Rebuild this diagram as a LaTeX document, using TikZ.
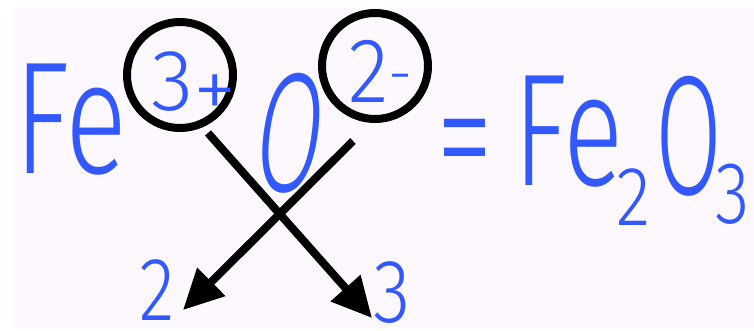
\documentclass[tikz,border=0pt]{standalone}
\usepackage{fontspec}
\newfontfamily\hand{Fira Sans Light}
\newfontfamily\handit{Fira Sans Light}[FakeSlant=0.22]
\usetikzlibrary{arrows.meta}
\definecolor{ink}{RGB}{50,88,255}
\definecolor{bg}{RGB}{253,248,253}
\newcommand{\fsz}[1]{\fontsize{#1}{#1}\selectfont}
\tikzset{
  x=1pt, y=-1pt,
  txt/.style={inner sep=0pt, outer sep=0pt, anchor=base west, text=ink, font=\hand},
  ring/.style={draw=black, line width=8pt, circle, minimum size=106pt, inner sep=0pt},
  cross/.style={line width=8pt, draw=black, -{Triangle[length=40pt,width=38pt]}},
}
\begin{document}
\begin{tikzpicture}
\useasboundingbox (0,0) rectangle (754,330);
\fill[bg] (13,8) rectangle (754,328);
% left side
\node[txt] (fe1) at (14,173) {\scalebox{0.72}[1]{\fsz{160}Fe}};
\node[ring] (c1) at (180,75) {};
\node[txt] (q1) at (151,110) {\fsz{87}3\raisebox{-9pt}{\fsz{88}+}};
\node[txt] (o1) at (250,191) {\scalebox{0.57}[1]{\fsz{170}\handit O}};
\node[ring] (c2) at (375,66) {};
\node[txt] (q2) at (348,102) {\scalebox{0.92}[1]{\fsz{92}2}\raisebox{8pt}{\fsz{60}-}};
\node[txt] (l2) at (139,320) {\scalebox{0.82}[1]{\fsz{90}2}};
\node[txt] (l3) at (373,322) {\scalebox{0.85}[1]{\fsz{90}3}};
% right side
\node[txt] (eq) at (436,192) {\scalebox{0.7}[1]{\fsz{165}=}};
\node[txt] (fe2) at (513,185) {\scalebox{0.70}[1]{\fsz{160}Fe}};
\node[txt] (s2) at (616,225) {\scalebox{0.85}[1]{\fsz{84}2}};
\node[txt] (o2) at (655,194) {\scalebox{0.57}[1]{\fsz{170}O}};
\node[txt] (s3) at (715,223) {\scalebox{0.80}[1]{\fsz{88}3}};
% crossing arrows
\coordinate (a1s) at (208,133);
\coordinate (a1e) at (372,318);
\coordinate (a2s) at (353,141);
\coordinate (a2e) at (183,310);
\draw[cross] (a1s) -- (a1e);
\draw[cross] (a2s) -- (a2e);
\end{tikzpicture}
\end{document}
